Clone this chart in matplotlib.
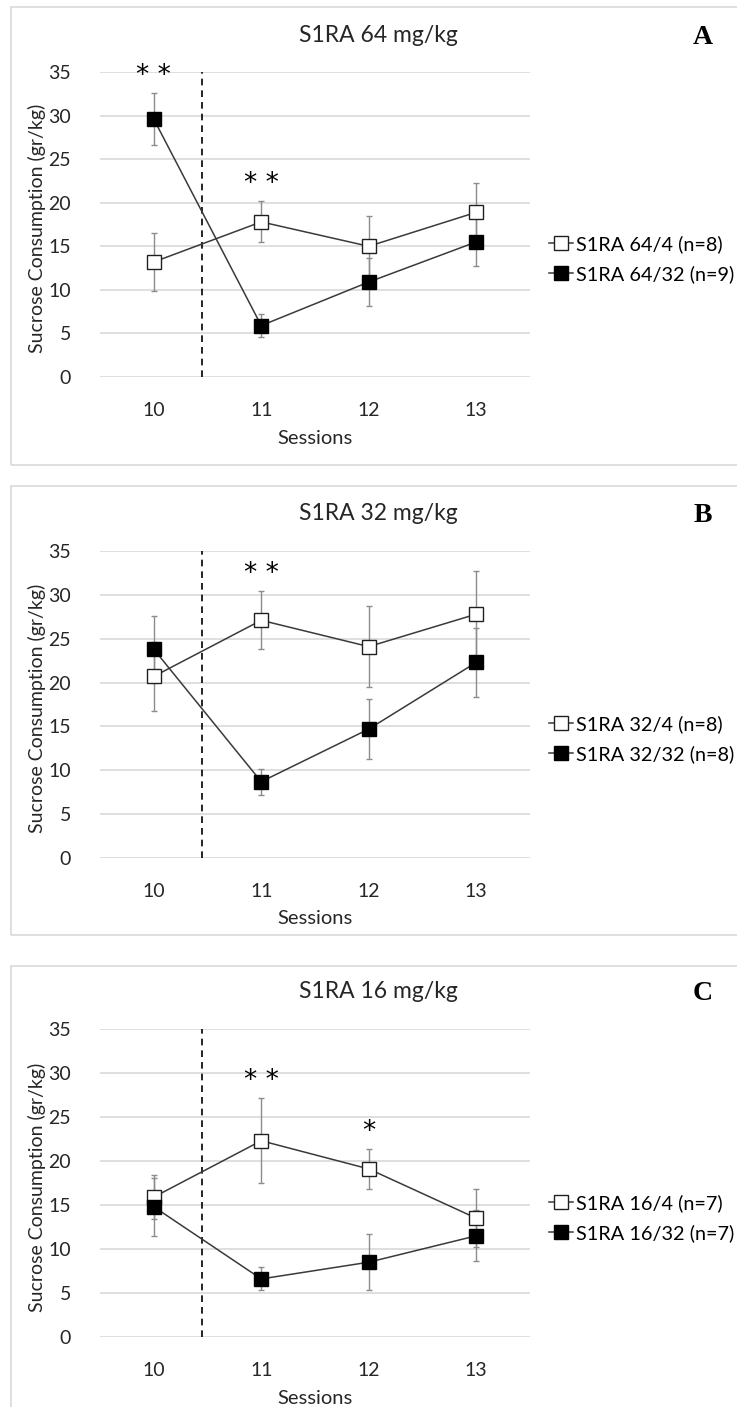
import matplotlib.pyplot as plt
from matplotlib.patches import Rectangle

plt.rcParams['font.family'] = ['Lato', 'DejaVu Sans']

sessions = [10, 11, 12, 13]

titles = ['S1RA 64 mg/kg', 'S1RA 32 mg/kg', 'S1RA 16 mg/kg']
letters = ['A', 'B', 'C']
low_labels = ['S1RA 64/4 (n=8)', 'S1RA 32/4 (n=8)', 'S1RA 16/4 (n=7)']
high_labels = ['S1RA 64/32 (n=9)', 'S1RA 32/32 (n=8)', 'S1RA 16/32 (n=7)']

# mean +/- SEM, sucrose 4% groups (open squares)
low_mean = [[13.2, 17.8, 15.0, 18.9],
            [20.7, 27.1, 24.1, 27.8],
            [15.9, 22.3, 19.1, 13.5]]
low_sem = [[3.3, 2.35, 3.5, 3.4],
           [3.9, 3.3, 4.6, 4.9],
           [2.5, 4.85, 2.25, 3.3]]

# sucrose 32% groups (filled squares)
high_mean = [[29.6, 5.9, 10.9, 15.5],
             [23.8, 8.7, 14.7, 22.3],
             [14.8, 6.6, 8.5, 11.5]]
high_sem = [[3.0, 1.3, 2.8, 2.8],
            [3.8, 1.5, 3.4, 3.9],
            [3.3, 1.3, 3.15, 2.9]]

# significance marks per panel: (session, label)
stars = [[(10, '**'), (11, '**')],
         [(11, '**')],
         [(11, '**'), (12, '*')]]

shift_session = 10.45

W, H = 737, 1407
fig = plt.figure(figsize=(W / 100, H / 100), dpi=100)

# pixel layout of the three panels
ax_top = [72, 551, 1029]
ax_h = [305, 307, 308]
box_top = [7, 486, 966]
box_bot = [465, 935, 1420]


def fx(px):
    return px / W


def fy(py):
    return 1 - py / H


for i in range(3):
    top, h = ax_top[i], ax_h[i]
    ax = fig.add_axes([fx(100), fy(top + h), 430 / W, h / H])

    fig.add_artist(Rectangle((fx(11), fy(box_bot[i])), (W + 20) / W,
                             (box_bot[i] - box_top[i]) / H,
                             transform=fig.transFigure, fill=False,
                             ec='#d9d9d9', lw=1.2))

    ax.errorbar(sessions, low_mean[i], yerr=low_sem[i], fmt='none',
                ecolor='#8c8c8c', elinewidth=1, capsize=2.5, capthick=1, zorder=2)
    ax.errorbar(sessions, high_mean[i], yerr=high_sem[i], fmt='none',
                ecolor='#8c8c8c', elinewidth=1, capsize=2.5, capthick=1, zorder=2)
    ax.plot(sessions, low_mean[i], color='#3a3a3a', lw=1.1, marker='s',
            markersize=10, markerfacecolor='white', markeredgecolor='#202020',
            markeredgewidth=1, label=low_labels[i], zorder=3)
    ax.plot(sessions, high_mean[i], color='#3a3a3a', lw=1.1, marker='s',
            markersize=10, markerfacecolor='black', markeredgecolor='black',
            label=high_labels[i], zorder=4)

    ax.axvline(shift_session, ymin=0, ymax=1, color='black', lw=1.2,
               ls=(0, (4, 3)), zorder=1)

    for s, lab in stars[i]:
        k = sessions.index(s)
        y = max(low_mean[i][k] + low_sem[i][k], high_mean[i][k] + high_sem[i][k])
        ax.text(s, y + 0.5, ' '.join(lab), ha='center', va='bottom',
                fontsize=19, family='DejaVu Sans', color='black')

    ax.set_xlim(9.5, 13.5)
    ax.set_ylim(0, 35)
    ax.set_yticks(range(0, 36, 5))
    ax.set_xticks(sessions)
    ax.grid(axis='y', color='#d9d9d9', lw=1.2)
    ax.set_axisbelow(True)
    for sp in ax.spines.values():
        sp.set_visible(False)
    ax.tick_params(length=0, labelsize=14, colors='#262626')
    ax.tick_params(axis='y', pad=21)
    ax.tick_params(axis='x', pad=18)

    ax.legend(loc='center left', bbox_to_anchor=(1.044, 0.387), frameon=False,
              fontsize=14.3, handlelength=1.2, handletextpad=0.15,
              labelspacing=0.6, borderpad=0, borderaxespad=0)

    fig.text(fx(378), fy(top - 37), titles[i], ha='center', va='center',
             fontsize=16.5, color='#262626')
    fig.text(fx(703), fy(top - 35), letters[i], ha='center', va='center',
             fontsize=20, family='Liberation Serif', weight='bold')
    fig.text(fx(315), fy(top + h + 61), 'Sessions', ha='center', va='center',
             fontsize=14.5, color='#262626')
    fig.text(fx(37), fy(top + h / 2 + 4), 'Sucrose Consumption (gr/kg)',
             ha='center', va='center', rotation=90, fontsize=14,
             color='#262626')

fig.savefig('out.png', dpi=100, facecolor='white')
